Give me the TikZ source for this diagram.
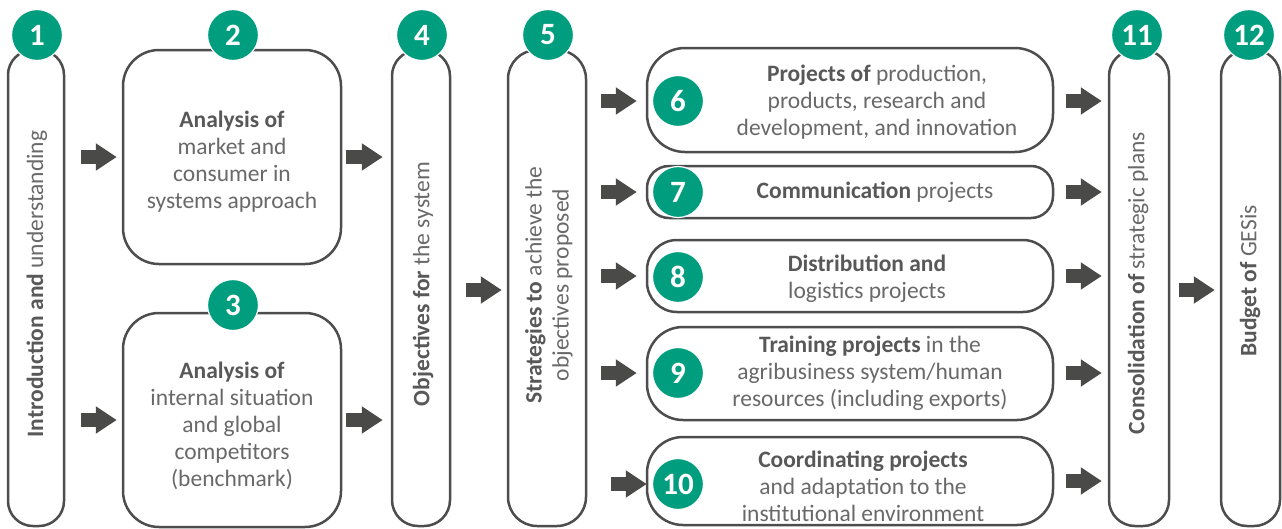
\documentclass[tikz,border=0pt]{standalone}
\usepackage{fontspec}
\setmainfont{Carlito}
\usetikzlibrary{arrows.meta,calc}
\definecolor{gr}{RGB}{0,158,126}
\definecolor{bordc}{RGB}{77,77,77}
\definecolor{txtc}{RGB}{105,105,105}
\definecolor{boldc}{RGB}{88,88,88}
\definecolor{arrc}{RGB}{74,74,72}
\newcommand{\bt}[1]{{\bfseries\color{boldc}#1}}
\begin{document}
\begin{tikzpicture}[x=1pt,y=-1pt,
  box/.style={draw=bordc, line width=2.5pt, rectangle, inner sep=0pt, fill=white},
  num/.style={circle, fill=gr, draw=white, line width=1.2pt, minimum size=51pt, inner sep=0pt, text=white, font=\fontsize{31}{31}\selectfont\bfseries},
  txt/.style={text=txtc, font=\fontsize{23.5}{27}\selectfont, align=center, inner sep=0pt},
  vtxt/.style={txt, rotate=90},
  bigarrow/.style={draw=arrc, line width=14pt, -{Triangle[length=21pt,width=26pt]}, line cap=butt}]
\useasboundingbox (0,0) rectangle (1282,528);
% boxes
\node[box, minimum width=56pt, minimum height=476pt, rounded corners=25pt] (b1) at (36,288) {};
\node[box, minimum width=218pt, minimum height=214pt, rounded corners=36pt] (b2) at (232,157) {};
\node[box, minimum width=218pt, minimum height=214pt, rounded corners=36pt] (b3) at (232,420) {};
\node[box, minimum width=58pt, minimum height=476pt, rounded corners=26pt] (b4) at (421,288) {};
\node[box, minimum width=78pt, minimum height=476pt, rounded corners=29pt] (b5) at (547,288) {};
\node[box, minimum width=406pt, minimum height=104pt, rounded corners=38pt] (b6) at (850,100) {};
\node[box, minimum width=406pt, minimum height=52pt, rounded corners=22pt] (b7) at (850,192) {};
\node[box, minimum width=406pt, minimum height=72pt, rounded corners=30pt] (b8) at (850,276) {};
\node[box, minimum width=406pt, minimum height=93pt, rounded corners=36pt] (b9) at (850,373.5) {};
\node[box, minimum width=406pt, minimum height=88pt, rounded corners=36pt] (b10) at (850,481) {};
\node[box, minimum width=60pt, minimum height=476pt, rounded corners=26pt] (b11) at (1139,288) {};
\node[box, minimum width=59pt, minimum height=476pt, rounded corners=26pt] (b12) at (1250.5,288) {};
% number circles
\node[num] (n1) at (37,35) {1};
\node[num] (n2) at (233,35) {2};
\node[num] (n3) at (233,305) {3};
\node[num] (n4) at (422,35) {4};
\node[num] (n5) at (548,35) {5};
\node[num] (n6) at (678,101) {6};
\node[num] (n7) at (678,192) {7};
\node[num] (n8) at (678,277) {8};
\node[num] (n9) at (678,373) {9};
\node[num] (n10) at (678,484) {10};
\node[num] (n11) at (1137,35) {11};
\node[num] (n12) at (1249,35) {12};
% texts
\node[vtxt] (t1) at (37,284) {\bt{Introduction and} understanding};
\node[txt] (t2) at (232,162) {\bt{Analysis of}\\market and\\consumer in\\systems approach};
\node[txt] (t3) at (232,426) {\bt{Analysis of}\\internal situation\\and global\\competitors\\(benchmark)};
\node[vtxt] (t4) at (423,284) {\bt{Objectives for} the system};
\node[vtxt] (t5) at (549,285) {\bt{Strategies to} achieve the\\objectives proposed};
\node[txt] (t6) at (877,102) {\bt{Projects of} production,\\products, research and\\development, and innovation};
\node[txt] (t7) at (875,192) {\bt{Communication} projects};
\node[txt] (t8) at (867,279) {\bt{Distribution and}\\logistics projects};
\node[txt] (t9) at (870,373) {\bt{Training projects} in the\\agribusiness system/human\\resources (including exports)};
\node[txt] (t10) at (863,486) {\bt{Coordinating projects}\\and adaptation to the\\institutional environment};
\node[vtxt] (t11) at (1138,283) {\bt{Consolidation of} strategic plans};
\node[vtxt] (t12) at (1250,281) {\bt{Budget of} GESis};
% arrows
\draw[bigarrow] ([xshift=16pt]b1.east |- b2.west) -- ([xshift=-5pt]b2.west);
\draw[bigarrow] ([xshift=16pt]b1.east |- b3.west) -- ([xshift=-5pt]b3.west);
\draw[bigarrow] ([xshift=4pt]b2.east) -- ([xshift=-8pt]b4.west |- b2.east);
\draw[bigarrow] ([xshift=4pt]b3.east) -- ([xshift=-8pt]b4.west |- b3.east);
\draw[bigarrow] ([xshift=15pt]b4.east |- 0,290) -- ([xshift=-5pt]b5.west |- 0,290);
\draw[bigarrow] ([xshift=14pt]b5.east |- n6.west) -- ([xshift=-9pt]b6.west |- n6.west);
\draw[bigarrow] ([xshift=14pt]b5.east |- b7.west) -- ([xshift=-9pt]b7.west);
\draw[bigarrow] ([xshift=14pt]b5.east |- b8.west) -- ([xshift=-9pt]b8.west);
\draw[bigarrow] ([xshift=14pt]b5.east |- n9.west) -- ([xshift=-9pt]b9.west |- n9.west);
\draw[bigarrow] ([xshift=24pt]b5.east |- n10.west) -- ([xshift=1pt]b10.west |- n10.west);
\draw[bigarrow] ([xshift=12pt]b6.east |- n6.east) -- ([xshift=-6pt]b11.west |- n6.east);
\draw[bigarrow] ([xshift=12pt]b7.east) -- ([xshift=-6pt]b11.west |- b7.east);
\draw[bigarrow] ([xshift=12pt]b8.east) -- ([xshift=-6pt]b11.west |- b8.east);
\draw[bigarrow] ([xshift=12pt]b9.east |- n9.east) -- ([xshift=-6pt]b11.west |- n9.east);
\draw[bigarrow] ([xshift=12pt]b10.east) -- ([xshift=-6pt]b11.west |- b10.east);
\draw[bigarrow] ([xshift=9pt]b11.east |- 0,290) -- ([xshift=-5pt]b12.west |- 0,290);
\end{tikzpicture}
\end{document}
